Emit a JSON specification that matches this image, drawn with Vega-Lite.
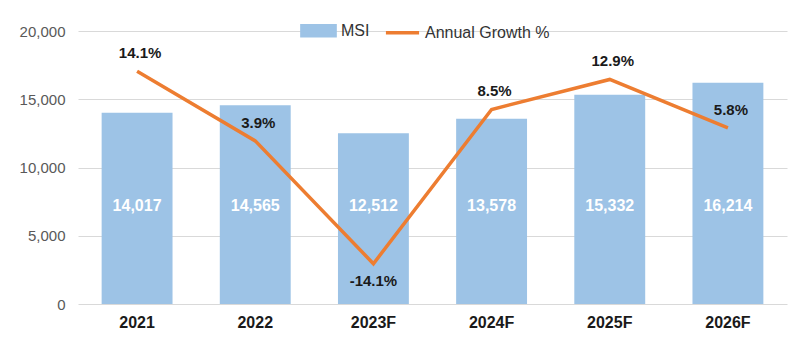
{
  "$schema": "https://vega.github.io/schema/vega-lite/v6.json",
  "width": 709,
  "height": 273,
  "autosize": {"type": "none"},
  "padding": {"left": 78, "top": 31, "right": 13, "bottom": 46},
  "background": "white",
  "config": {
    "view": {"stroke": null},
    "font": "Liberation Sans",
    "locale": {
      "number": {"decimal": ".", "thousands": ",", "grouping": [3], "currency": ["$", ""], "minus": "-"}
    }
  },
  "data": {
    "values": [
      {"year": "2021", "msi": 14017, "growth": 0.141},
      {"year": "2022", "msi": 14565, "growth": 0.039},
      {"year": "2023F", "msi": 12512, "growth": -0.141},
      {"year": "2024F", "msi": 13578, "growth": 0.085},
      {"year": "2025F", "msi": 15332, "growth": 0.129},
      {"year": "2026F", "msi": 16214, "growth": 0.058}
    ]
  },
  "encoding": {
    "x": {
      "field": "year",
      "type": "nominal",
      "sort": null,
      "scale": {"paddingInner": 0.4, "paddingOuter": 0.2},
      "axis": {
        "title": null,
        "labelAngle": 0,
        "labelFont": "Liberation Sans",
        "labelFontSize": 16,
        "labelFontWeight": "bold",
        "labelColor": "#1a1a1a",
        "labelPadding": 10,
        "ticks": false,
        "domain": false
      }
    }
  },
  "layer": [
    {
      "layer": [
        {
          "mark": {"type": "bar", "color": "#9DC3E6"},
          "encoding": {
            "y": {
              "field": "msi",
              "type": "quantitative",
              "scale": {"domain": [0, 20000]},
              "axis": {
                "title": null,
                "values": [0, 5000, 10000, 15000, 20000],
                "format": ",d",
                "labelFont": "Liberation Sans",
                "labelFontSize": 15,
                "labelColor": "#595959",
                "labelPadding": 13,
                "ticks": false,
                "domain": false,
                "gridColor": "#d9d9d9",
                "gridWidth": 1
              }
            },
            "color": {
              "datum": "MSI",
              "type": "nominal",
              "scale": {"domain": ["MSI", "Annual Growth %"], "range": ["#9DC3E6", "#ED7D31"]},
              "legend": {
                "orient": "none",
                "legendX": 222,
                "legendY": -19,
                "direction": "horizontal",
                "title": null,
                "labelFont": "Liberation Sans",
                "labelFontSize": 16,
                "labelColor": "#333333",
                "labelOffset": 4,
                "columnPadding": 8,
                "symbolSize": 1100,
                "symbolStrokeWidth": 3.5,
                "encode": {
                  "symbols": {
                    "update": {
                      "shape": {"signal": "datum.value === 'MSI' ? 'M-1,-0.3H1V0.3H-1Z' : 'M-1,0H1'"},
                      "fill": {"signal": "datum.value === 'MSI' ? '#9DC3E6' : 'transparent'"},
                      "stroke": {"signal": "datum.value === 'MSI' ? 'transparent' : '#ED7D31'"},
                      "strokeWidth": {"value": 3.5},
                      "opacity": {"value": 1}
                    }
                  }
                }
              }
            }
          }
        },
        {
          "mark": {"type": "text", "color": "white", "fontWeight": "bold", "fontSize": 16, "font": "Liberation Sans", "baseline": "middle"},
          "encoding": {
            "y": {"datum": 7200, "type": "quantitative"},
            "text": {"field": "msi", "type": "quantitative", "format": ","}
          }
        }
      ]
    },
    {
      "layer": [
        {
          "mark": {"type": "line", "strokeWidth": 3.5, "strokeJoin": "miter"},
          "encoding": {
            "y": {"field": "growth", "type": "quantitative", "scale": {"domain": [-0.2, 0.2]}, "axis": null},
            "color": {"datum": "Annual Growth %", "type": "nominal"}
          }
        },
        {
          "transform": [{"filter": "datum.growth >= 0"}],
          "mark": {"type": "text", "color": "#1a1a1a", "fontWeight": "bold", "fontSize": 15, "font": "Liberation Sans", "baseline": "middle", "dy": -18, "dx": 3},
          "encoding": {
            "y": {"field": "growth", "type": "quantitative"},
            "text": {"field": "growth", "type": "quantitative", "format": ".1%"}
          }
        },
        {
          "transform": [{"filter": "datum.growth < 0"}],
          "mark": {"type": "text", "color": "#1a1a1a", "fontWeight": "bold", "fontSize": 15, "font": "Liberation Sans", "baseline": "middle", "dy": 17},
          "encoding": {
            "y": {"field": "growth", "type": "quantitative"},
            "text": {"field": "growth", "type": "quantitative", "format": ".1%"}
          }
        }
      ]
    }
  ],
  "resolve": {"scale": {"y": "independent"}}
}
